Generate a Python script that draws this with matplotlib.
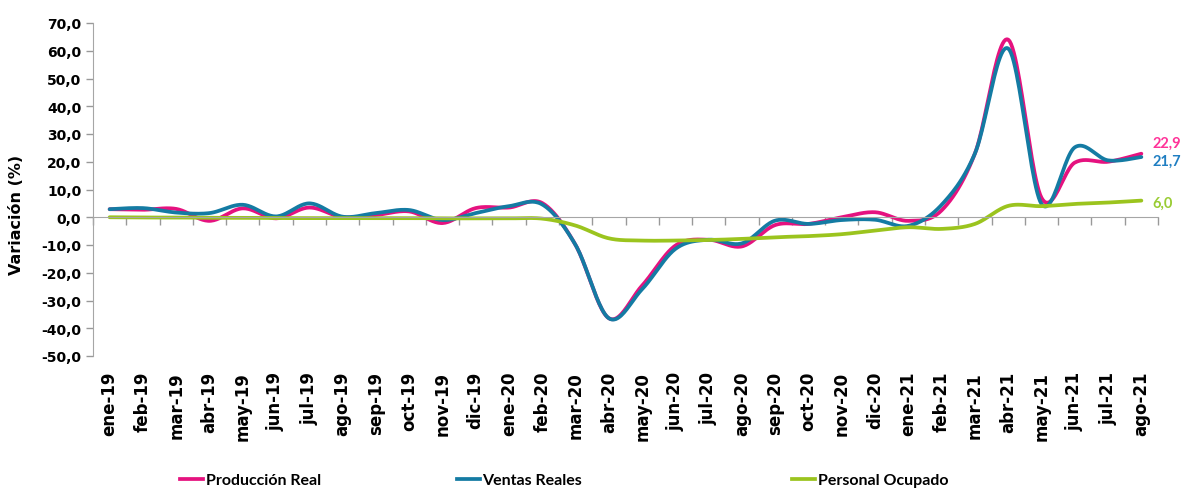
import numpy as np
import matplotlib
matplotlib.use('Agg')
import matplotlib.pyplot as plt
from matplotlib.lines import Line2D
from matplotlib.transforms import blended_transform_factory, offset_copy

meses = ['ene-19', 'feb-19', 'mar-19', 'abr-19', 'may-19', 'jun-19', 'jul-19', 'ago-19',
         'sep-19', 'oct-19', 'nov-19', 'dic-19', 'ene-20', 'feb-20', 'mar-20', 'abr-20',
         'may-20', 'jun-20', 'jul-20', 'ago-20', 'sep-20', 'oct-20', 'nov-20', 'dic-20',
         'ene-21', 'feb-21', 'mar-21', 'abr-21', 'may-21', 'jun-21', 'jul-21', 'ago-21']

produccion = [2.9, 2.7, 3.0, -1.3, 3.2, -0.4, 3.5, 0.0, 0.8, 2.1, -2.1, 3.3,
              3.5, 5.1, -10.0, -36.4, -24.6, -10.2, -8.1, -10.5, -2.8, -2.4, 0.0, 1.8,
              -1.3, 2.5, 23.0, 64.0, 7.0, 19.7, 20.0, 22.9]
ventas = [2.9, 3.3, 1.7, 1.5, 4.5, 0.3, 5.0, 0.2, 1.5, 2.6, -1.0, 1.5,
          4.0, 4.6, -10.0, -36.4, -25.9, -11.4, -8.1, -9.4, -1.2, -2.4, -1.0, -0.9,
          -3.1, 4.5, 23.0, 60.8, 4.8, 25.2, 20.5, 21.7]
personal = [0.0, -0.1, -0.1, -0.2, -0.2, -0.3, -0.3, -0.3, -0.3, -0.3, -0.4, -0.4,
            -0.4, -0.5, -3.0, -7.6, -8.4, -8.4, -8.2, -7.8, -7.2, -6.8, -6.1, -4.8,
            -3.6, -4.2, -2.4, 4.1, 4.0, 4.8, 5.3, 6.0]

series = [('Producción Real', produccion, '#E5127F', '#FF3399', '22,9', 11),
          ('Ventas Reales', ventas, '#147BA3', '#1F7EC2', '21,7', -4),
          ('Personal Ocupado', personal, '#9BC41E', '#99CC33', '6,0', -2)]


# curva suavizada tipo Excel (Bezier entre los puntos)
def suave(y, n=25):
    p = np.column_stack([np.arange(len(y)), y]).astype(float)
    xs, ys = [], []
    t = np.linspace(0, 1, n)[:, None]
    for i in range(len(p) - 1):
        p0 = p[max(i - 1, 0)]
        p1 = p[i]
        p2 = p[i + 1]
        p3 = p[min(i + 2, len(p) - 1)]
        c1 = p1 + (p2 - p0) / 6
        c2 = p2 - (p3 - p1) / 6
        seg = (1 - t)**3 * p1 + 3 * (1 - t)**2 * t * c1 + 3 * (1 - t) * t**2 * c2 + t**3 * p2
        xs.extend(seg[:, 0])
        ys.extend(seg[:, 1])
    return xs, ys


fig = plt.figure(figsize=(11.82, 4.89), dpi=100)
ax = fig.add_axes([93 / 1182, 1 - 357 / 489, 1065 / 1182, 333 / 489])

for nombre, vals, col, col_txt, txt, dy in series:
    xs, ys = suave(vals)
    ax.plot(xs, ys, color=col, lw=2.7, solid_capstyle='round')
    ax.annotate(txt, xy=(len(vals) - 1, vals[-1]), xytext=(11, dy), textcoords='offset pixels',
                ha='left', va='center', color=col_txt, fontsize=10.5, fontweight='bold',
                family='Lato', annotation_clip=False)

ax.set_xlim(-0.5, len(meses) - 0.5)
ax.set_ylim(-50, 70)
yt = np.arange(-50, 71, 10)
ax.set_yticks(yt)
ax.set_yticklabels([f'{v:.1f}'.replace('.', ',') for v in yt], fontsize=10, fontweight='bold')
ax.tick_params(axis='y', colors='#999999', labelcolor='black', length=5, width=1)

ax.set_xticks(np.arange(-0.5, len(meses), 1))
ax.set_xticklabels([])
ax.tick_params(axis='x', colors='#999999', length=6, width=1, direction='out')

for s in ['top', 'right']:
    ax.spines[s].set_visible(False)
ax.spines['left'].set_color('#A6A6A6')
ax.spines['bottom'].set_color('#A6A6A6')
ax.spines['bottom'].set_position(('data', 0))

trans = offset_copy(blended_transform_factory(ax.transData, ax.transAxes), fig=fig, y=-15, units='dots')
for i, m in enumerate(meses):
    ax.text(i, 0, m, transform=trans, rotation=90, ha='center', va='top',
            fontsize=12, fontweight='bold')

fig.text(17 / 1182, 1 - 215 / 489, 'Variación (%)', rotation=90, ha='center', va='center',
         fontsize=11.5, fontweight='bold')

# leyenda
xleg = [180, 457, 792]
for (nombre, vals, col, col_txt, txt, dy), x0 in zip(series, xleg):
    h = Line2D([], [], color=col, lw=2.7)
    fig.legend([h], [nombre], loc='center left', bbox_to_anchor=(x0 / 1182, 1 - 481 / 489),
               frameon=False, borderpad=0, borderaxespad=0, handlelength=1.45,
               handletextpad=0.15, prop={'family': 'Lato', 'weight': 'bold', 'size': 11.5})

fig.savefig('out.png', dpi=100)
